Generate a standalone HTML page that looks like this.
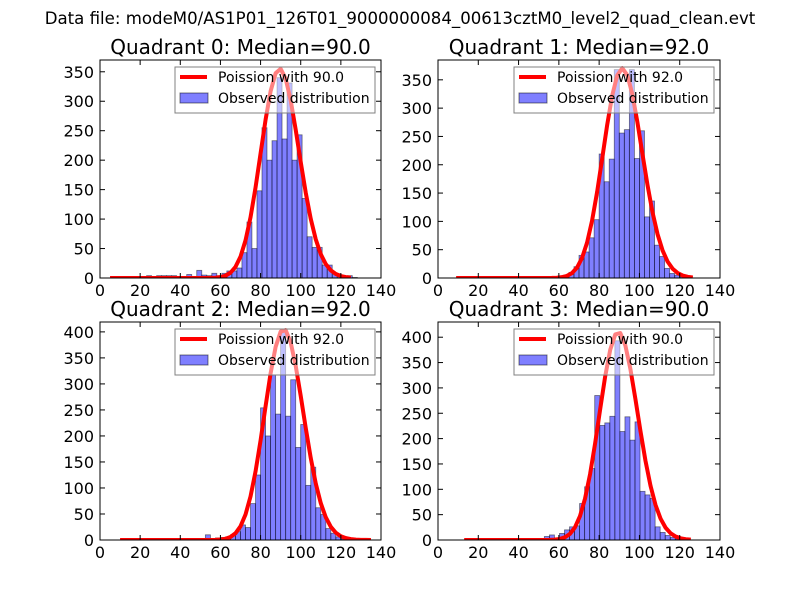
<!DOCTYPE html>
<html><head><meta charset="utf-8"><style>
html,body{margin:0;padding:0;background:#fff;}
svg{display:block;font-family:"DejaVu Sans","Liberation Sans",sans-serif;}
</style></head><body>
<svg id="chart" width="800" height="600" viewBox="0 0 800 600">
<rect x="0" y="0" width="800" height="600" fill="#fff"/>
<text x="400" y="24" font-size="16.6" text-anchor="middle">Data file: modeM0/AS1P01_126T01_9000000084_00613cztM0_level2_quad_clean.evt</text>
</svg>
<script>
// ---- data ----
const quadrantNames = ["Quadrant 0","Quadrant 1","Quadrant 2","Quadrant 3"];
const medians = [90.0, 92.0, 92.0, 90.0];
const binStarts = [5.7, 10, 10, 12.8];
const binWidths = [2.5, 2.5, 2.5, 2.5];
const counts0 = [2,1,1,2,1,2,0,4,1,4,4,4,4,2,2,6,2,13,5,4,8,4,8,12,12,17,43,95,50,148,255,200,233,340,236,331,200,243,135,70,52,52,22,22,8,4,2,4,1];
const counts1 = [0,0,0,0,0,0,0,0,0,0,0,0,0,0,0,1,0,1,1,2,2,5,10,20,40,46,71,103,219,170,210,368,256,262,368,211,260,108,136,58,38,17,8,5,2,1,0];
const counts2 = [0,0,0,0,0,0,0,0,0,0,0,0,0,0,0,0,0,10,3,4,5,6,10,16,29,24,70,125,254,200,317,242,405,238,308,178,222,105,140,62,49,22,13,6,2,1,0,0,0,0];
const counts3 = [0,0,0,0,0,0,0,0,0,0,0,0,0,0,0,0,7,10,4,13,20,26,28,72,105,141,285,226,231,244,393,214,243,197,233,96,89,82,26,15,9,5,2,1,0];
const poissonPeaks = [355, 370, 405, 410];
const curveRanges = [[5,127],[9,127],[10,135],[13,126]];
const yMaxes = [370, 385, 419, 430];
const xTicks = [0,20,40,60,80,100,120,140];
const yTicks0 = [0,50,100,150,200,250,300,350];
const yTicks1 = [0,50,100,150,200,250,300,350];
const yTicks2 = [0,50,100,150,200,250,300,350,400];
const yTicks3 = [0,50,100,150,200,250,300,350,400];
const allCounts = [counts0,counts1,counts2,counts3];
const allYTicks = [yTicks0,yTicks1,yTicks2,yTicks3];
// ---- layout ----
const boxes = [[100,60,381,278],[438,60,720,278],[100,322,381,540],[438,322,720,540]];
const NS = "http://www.w3.org/2000/svg";
const svg = document.getElementById('chart');
function mk(tag, attrs, parent){ const e=document.createElementNS(NS,tag); for(const k in attrs) e.setAttribute(k,attrs[k]); (parent||svg).appendChild(e); return e; }
function lgamma(z){
  const c=[76.18009172947146,-86.50532032941677,24.01409824083091,-1.231739572450155,0.1208650973866179e-2,-0.5395239384953e-5];
  let x=z,y=z,t=x+5.5; t-=(x+0.5)*Math.log(t); let s=1.000000000190015; for(let j=0;j<6;j++){ s+=c[j]/++y; } return -t+Math.log(2.5066282746310005*s/x);
}
function logPois(k,mu){ return k*Math.log(mu)-mu-lgamma(k+1); }
for(let q=0;q<4;q++){
  const [x0,y0,x1,y1]=boxes[q];
  const g = mk('g',{});
  
  
  const xs = v => x0 + (v-0)/(140-0)*(x1-x0);
  const ys = v => y1 - v/yMaxes[q]*(y1-y0);
  const clipId='clip'+q;
  const cp=mk('clipPath',{id:clipId},g); mk('rect',{x:x0,y:y0,width:x1-x0,height:y1-y0},cp);
  const plot=mk('g',{'clip-path':'url(#'+clipId+')'},g);
  const cts=allCounts[q];
  for(let i=0;i<cts.length;i++){
    if(cts[i]<=0) continue;
    const a=binStarts[q]+i*binWidths[q], b=a+binWidths[q];
    const r=mk('rect',{x:xs(a),y:ys(cts[i]),width:xs(b)-xs(a),height:ys(0)-ys(cts[i]),fill:'rgba(0,0,255,0.5)',stroke:'rgba(0,0,0,0.5)','stroke-width':0.8},plot);
    
    
  }
  const mu=medians[q]; const lp0=logPois(mu,mu);
  let pts=[];
  const [c0,c1]=curveRanges[q];
  for(let k=c0;k<=c1;k+=binWidths[q]){
    const v=poissonPeaks[q]*Math.exp(logPois(k,mu)-lp0);
    pts.push(xs(k).toFixed(2)+','+ys(v).toFixed(2));
  }
  const pl=mk('polyline',{points:pts.join(' '),fill:'none',stroke:'#ff0000','stroke-width':4,'stroke-linejoin':'round'},plot);
  
  
  mk('rect',{x:x0,y:y0,width:x1-x0,height:y1-y0,fill:'none',stroke:'#000','stroke-width':1},g);
  for(const t of xTicks){
    const X=xs(t);
    mk('line',{x1:X,y1:y1,x2:X,y2:y1-5,stroke:'#000'},g);
    mk('line',{x1:X,y1:y0,x2:X,y2:y0+5,stroke:'#000'},g);
    const tx=mk('text',{x:X,y:y1+18,'font-size':16,'text-anchor':'middle'},g); tx.textContent=t;
    
    
  }
  for(const t of allYTicks[q]){
    const Y=ys(t);
    mk('line',{x1:x0,y1:Y,x2:x0+5,y2:Y,stroke:'#000'},g);
    mk('line',{x1:x1,y1:Y,x2:x1-5,y2:Y,stroke:'#000'},g);
    const tx=mk('text',{x:x0-6,y:Y+6,'font-size':16,'text-anchor':'end'},g); tx.textContent=t;
    
    
  }
  const ti=mk('text',{x:(x0+x1)/2,y:y0-6,'font-size':20,'text-anchor':'middle'},g);
  ti.textContent=quadrantNames[q]+': Median='+medians[q].toFixed(1);
  
  
  const lx=x1-206, ly=y0+7;
  const lg=mk('g',{},g);
  
  
  mk('rect',{x:lx,y:ly,width:200,height:46,fill:'rgba(255,255,255,0.5)',stroke:'#808080','stroke-width':1},lg);
  mk('line',{x1:lx+5,y1:ly+10,x2:lx+32,y2:ly+10,stroke:'#ff0000','stroke-width':4},lg);
  const t1=mk('text',{x:lx+43,y:ly+15,'font-size':14},lg); t1.textContent='Poission with '+medians[q].toFixed(1);
  
  
  mk('rect',{x:lx+5,y:ly+26,width:28,height:10,fill:'rgba(0,0,255,0.5)',stroke:'rgba(0,0,0,0.5)'},lg);
  const t2=mk('text',{x:lx+43,y:ly+36,'font-size':14},lg); t2.textContent='Observed distribution';
  
  
}
</script>
</body></html>
